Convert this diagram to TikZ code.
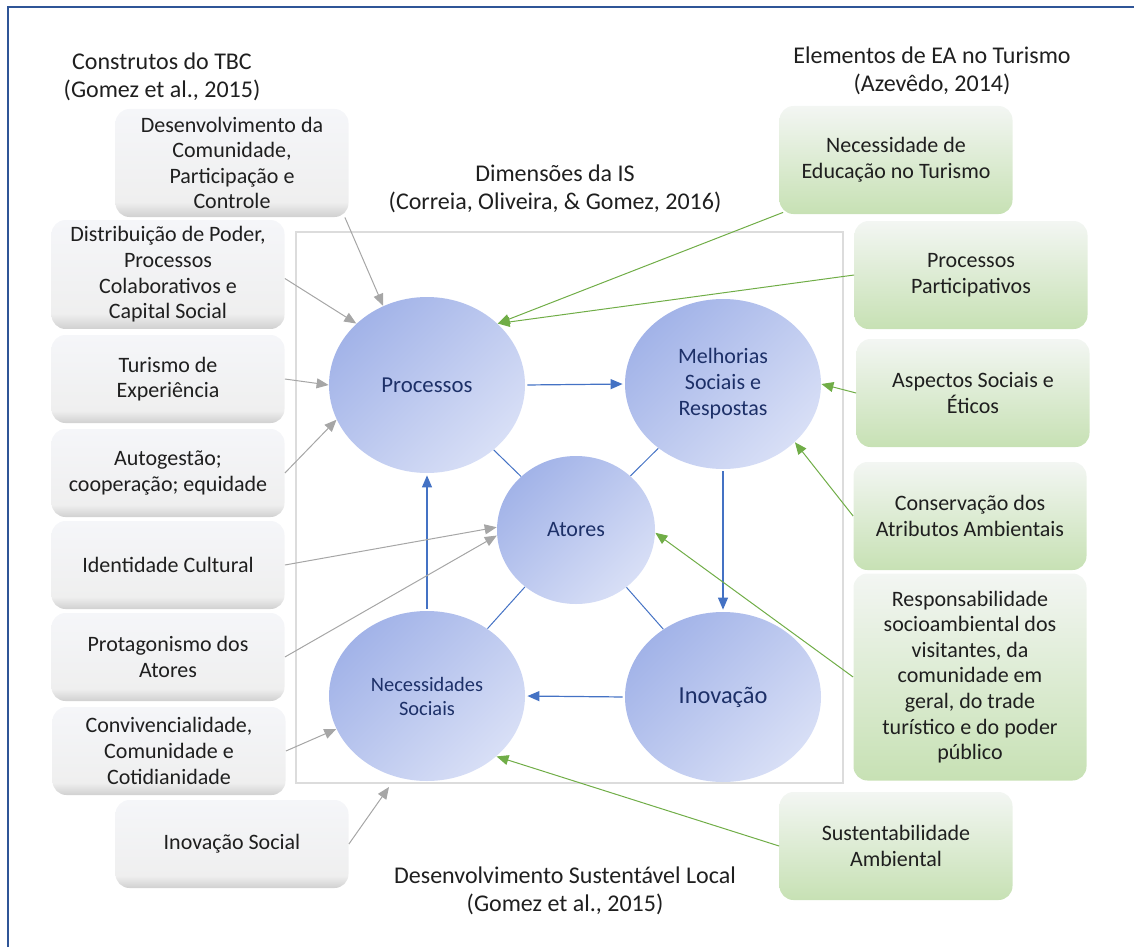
\documentclass[tikz,border=0pt]{standalone}
\usepackage{fontspec}
\setmainfont{Carlito}
\usetikzlibrary{arrows.meta, shapes.geometric, calc}

\definecolor{framebl}{HTML}{2F5597}
\definecolor{rimgray}{HTML}{DCDCDC}
\definecolor{linkgray}{HTML}{A6A6A6}
\definecolor{linkgreen}{HTML}{70AD47}
\definecolor{linkblue}{HTML}{4472C4}
\definecolor{ovaldark}{HTML}{A2B3E8}
\definecolor{ovallight}{HTML}{D8DFF6}
\definecolor{ovaltext}{HTML}{1D3068}
\definecolor{boxtop}{HTML}{F5F6F9}
\definecolor{boxmid}{HTML}{EFEFEF}
\definecolor{boxbot}{HTML}{D0D0D0}
\definecolor{leaftop}{HTML}{F3F6F3}
\definecolor{leafbot}{HTML}{C7E1B4}

% gray boxes: light face, darker band at the foot
\pgfdeclareverticalshading{grayboxshade}{100bp}{color(0bp)=(boxbot); color(25bp)=(boxbot); color(32bp)=(boxmid); color(75bp)=(boxtop); color(100bp)=(boxtop)}

\newcommand{\boxfont}{\fontsize{11}{12.8}\selectfont}

\begin{document}
\begin{tikzpicture}[x=0.5pt, y=-0.5pt,
	tbcbox/.style={rounded corners=7pt, shading=grayboxshade, minimum width=116.5pt,
		minimum height=44pt, align=center, font=\boxfont, text=black!88},
	tbctall/.style={tbcbox, minimum height=54pt},
	eabox/.style={rounded corners=7pt, top color=leaftop, bottom color=leafbot,
		minimum width=116.5pt, minimum height=54pt, align=center, font=\boxfont, text=black!88},
	dimoval/.style={ellipse, top color=ovaldark, bottom color=ovallight, shading angle=45,
		inner sep=0pt, minimum width=98pt, minimum height=85pt, align=center, text=ovaltext},
	heading/.style={align=center, font=\fontsize{12}{14}\selectfont, text=black!88},
	isarrow/.style={linkblue, line width=0.6pt, -{Triangle[length=6pt, width=5pt]}},
	islink/.style={linkblue, line width=0.5pt},
	tbcarrow/.style={linkgray, line width=0.5pt, -{Triangle[length=6pt, width=5pt]}},
	eaarrow/.style={linkgreen, line width=0.5pt, -{Triangle[length=6pt, width=5pt]}}]
	\useasboundingbox (0,0) rectangle (1134,947);
	\draw[framebl, line width=1pt] (7.5,947) -- (7.5,7) -- (1134,7);

	% headings
	\node[heading] (tbctitle) at (162,77) {Construtos do TBC\\(Gomez et al., 2015)};
	\node[heading] (eatitle) at (932,71) {Elementos de EA no Turismo\\(Azevêdo, 2014)};
	\node[heading] (istitle) at (555,189) {Dimensões da IS\\(Correia, Oliveira, \& Gomez, 2016)};
	\node[heading] (dsltitle) at (565,891) {Desenvolvimento Sustentável Local\\(Gomez et al., 2015)};

	% frame of the IS dimensions
	\coordinate (isnw) at (296,232);
	\coordinate (isse) at (843,783);
	\coordinate (isfoot) at (389,787);
	\draw[rimgray, line width=0.8pt] (isnw) rectangle (isse);

	% dimensions
	\node[dimoval, minimum height=88pt, font=\fontsize{11.4}{13}\selectfont] (proc) at (427,385) {Processos};
	\node[dimoval, font=\fontsize{11}{13}\selectfont] (melh) at (723,384) {Melhorias\\Sociais e\\Respostas};
	\node[dimoval, minimum width=79pt, minimum height=74pt, font=\fontsize{11}{13}\selectfont] (atores) at (576,530) {Atores};
	\node[dimoval, font=\fontsize{10.2}{12}\selectfont] (nec) at (427,696) {Necessidades\\Sociais};
	\node[dimoval, font=\fontsize{12.2}{14}\selectfont] (inov) at (723,697) {Inovação};

	\draw[isarrow, shorten <=1pt, shorten >=1pt] (proc.east) -- (melh.west);
	\draw[isarrow, shorten <=1pt, shorten >=1pt] (melh.south) -- (inov.north);
	\draw[isarrow, shorten <=1pt, shorten >=1pt] (inov.west) -- (nec.east);
	\draw[isarrow, shorten <=1pt, shorten >=1pt] (nec.north) -- (proc.south);
	\foreach \dim in {proc, melh, nec, inov}
		\draw[islink] (atores) -- (\dim);

	% TBC constructs
	\node[tbctall] (dcp) at (232,163) {Desenvolvimento da\\Comunidade,\\Participação e\\Controle};
	\node[tbctall] (dpp) at (168,274.5) {Distribuição de Poder,\\Processos\\Colaborativos e\\Capital Social};
	\node[tbcbox] (turexp) at (168,379) {Turismo de\\Experiência};
	\node[tbcbox] (autog) at (168,473) {Autogestão;\\cooperação; equidade};
	\node[tbcbox] (ident) at (168,565) {Identidade Cultural};
	\node[tbcbox] (protag) at (168,657) {Protagonismo dos\\Atores};
	\node[tbcbox] (conviv) at (169,751) {Convivencialidade,\\Comunidade e\\Cotidianidade};
	\node[tbcbox] (inovsoc) at (232,844) {Inovação Social};

	\draw[tbcarrow] ($(dcp.south east)+(-4,0)$) -- (proc.119);
	\draw[tbcarrow] ($(dpp.east)+(0,4)$) -- (proc.139);
	\draw[tbcarrow] (turexp.east) -- (proc.180);
	\draw[tbcarrow] (autog.east) -- (proc.201);
	\draw[tbcarrow] (ident.east) -- (atores.178);
	\draw[tbcarrow] (protag.east) -- (atores.184);
	\draw[tbcarrow] (conviv.east) -- (nec.200);
	\draw[tbcarrow] (inovsoc.east) -- (isfoot);

	% EA elements
	\node[eabox] (edutur) at (896,160) {Necessidade de\\Educação no Turismo};
	\node[eabox] (partic) at (971,275) {Processos\\Participativos};
	\node[eabox] (etica) at (973,393) {Aspectos Sociais e\\Éticos};
	\node[eabox] (conserv) at (970,516) {Conservação dos\\Atributos Ambientais};
	\node[eabox, minimum height=103.5pt] (respons) at (970,677) {Responsabilidade\\socioambiental dos\\visitantes, da\\comunidade em\\geral, do trade\\turístico e do poder\\público};
	\node[eabox] (sustamb) at (896,846) {Sustentabilidade\\Ambiental};

	\draw[eaarrow] ($(edutur.south west)+(4,-2)$) -- (proc.41);
	\draw[eaarrow] (partic.west) -- (proc.41);
	\draw[eaarrow] (etica.west) -- (melh.0);
	\draw[eaarrow] (conserv.west) -- (melh.-39);
	\draw[eaarrow] (respons.west) -- (atores.-2);
	\draw[eaarrow] (sustamb.west) -- (nec.-41);
\end{tikzpicture}
\end{document}
